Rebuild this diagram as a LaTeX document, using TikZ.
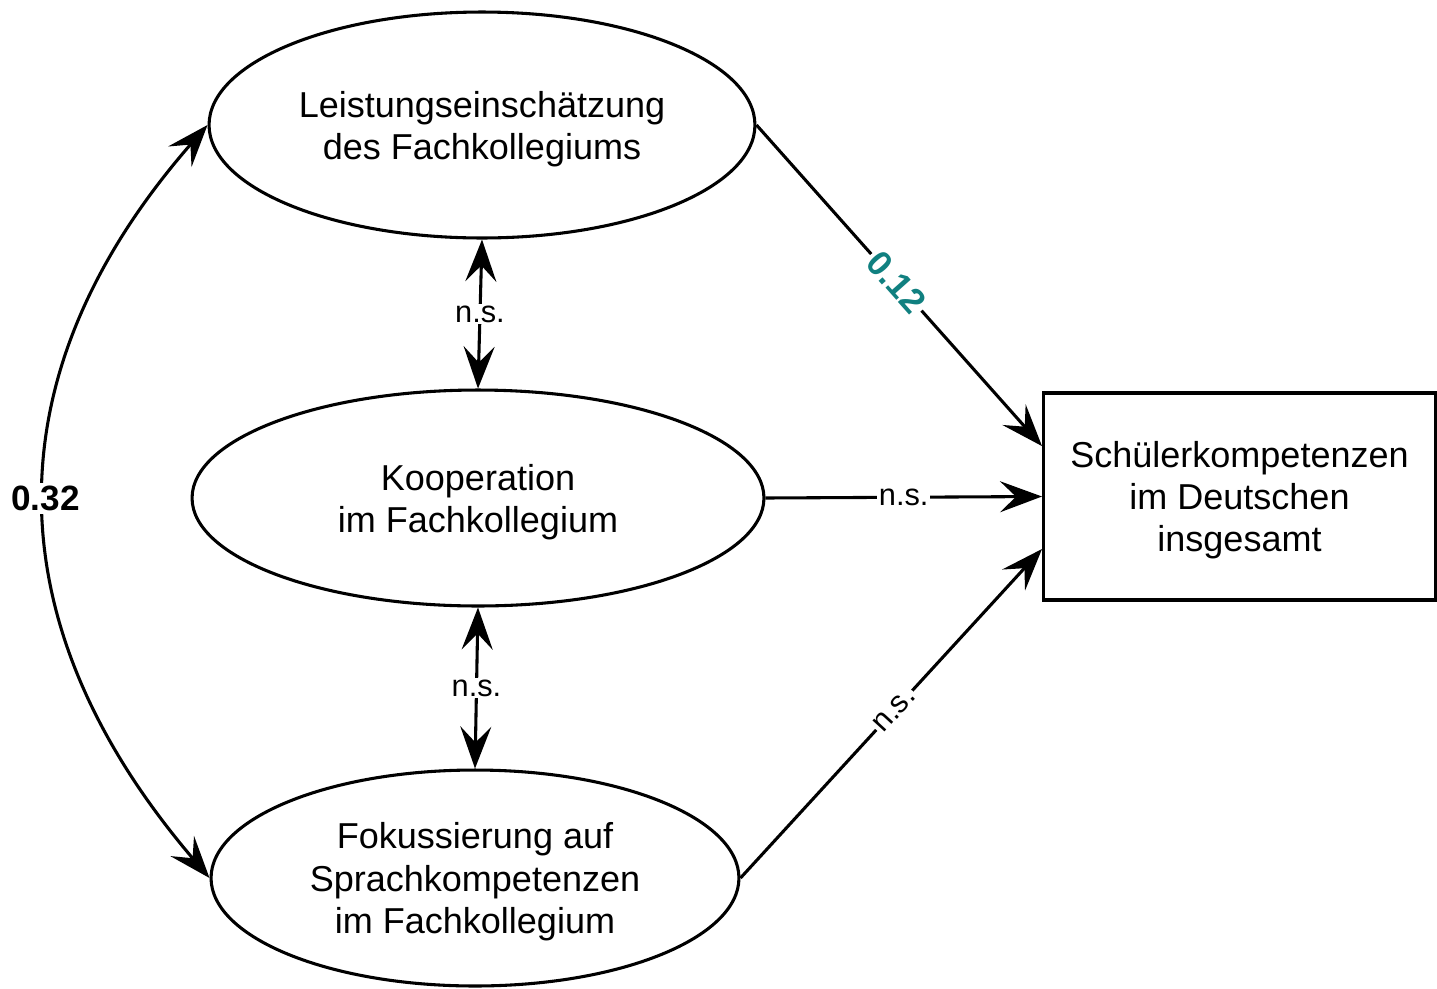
\documentclass[tikz,border=0pt]{standalone}
\usepackage{fontspec}
\setmainfont{Liberation Sans}
\usetikzlibrary{shapes.geometric,arrows.meta,calc}
\definecolor{tealc}{RGB}{16,128,128}
\newcommand{\topstrut}{\rule{0pt}{19.2pt}}
\begin{document}
\begin{tikzpicture}[x=0.02cm,y=-0.02cm,
  line width=1.75pt,
  tip/.style={-{Stealth[length=0.84cm,width=0.62cm,inset=0.32cm]}},
  both/.style={{Stealth[length=0.84cm,width=0.62cm,inset=0.32cm]}-{Stealth[length=0.84cm,width=0.62cm,inset=0.32cm]}},
  latent/.style={draw,ellipse,inner sep=0pt,align=center,font=\fontsize{20.5}{24}\selectfont},
  obs/.style={draw,rectangle,inner sep=0pt,align=center,font=\fontsize{20.5}{21}\selectfont},
  lab/.style={fill=white,inner sep=1pt,font=\fontsize{17.5}{20}\selectfont},
  blab/.style={fill=white,inner sep=2pt,font=\fontsize{20}{22}\selectfont\bfseries}]
\useasboundingbox (0,0) rectangle (1437,988);
\node[latent,minimum width=10.92cm,minimum height=4.52cm] (top) at (482,125) {\topstrut Leistungseinschätzung\\des Fachkollegiums};
\node[latent,minimum width=11.44cm,minimum height=4.32cm] (mid) at (478,498) {\topstrut Kooperation\\im Fachkollegium};
\node[latent,minimum width=10.56cm,minimum height=4.32cm] (bot) at (475,878) {\topstrut Fokussierung auf\\Sprachkompetenzen\\im Fachkollegium};
\node[obs,minimum width=7.84cm,minimum height=4.14cm] (box) at (1239.5,496.5) {\topstrut Schülerkompetenzen\\[3pt]im Deutschen\\[3pt]insgesamt};
\coordinate (boxA) at ($(box.north west)!0.26!(box.south west)$);
\coordinate (boxB) at ($(box.north west)!0.75!(box.south west)$);
\draw[tip] (top.east) -- node[blab,text=tealc,sloped,pos=0.49] {0.12} (boxA);
\draw[tip] (mid.east) -- node[lab] {n.s.} (box.west);
\draw[tip] (bot.east) -- node[lab,sloped,pos=0.51] {n.s.} (boxB);
\draw[both] (top.south) -- node[lab] {n.s.} (mid.north);
\draw[both] (mid.south) -- node[lab] {n.s.} (bot.north);
\draw[both] (top.west) .. controls (-9,373) and (-9,622) .. node[blab,pos=0.5] {0.32} (bot.west);
\end{tikzpicture}
\end{document}
